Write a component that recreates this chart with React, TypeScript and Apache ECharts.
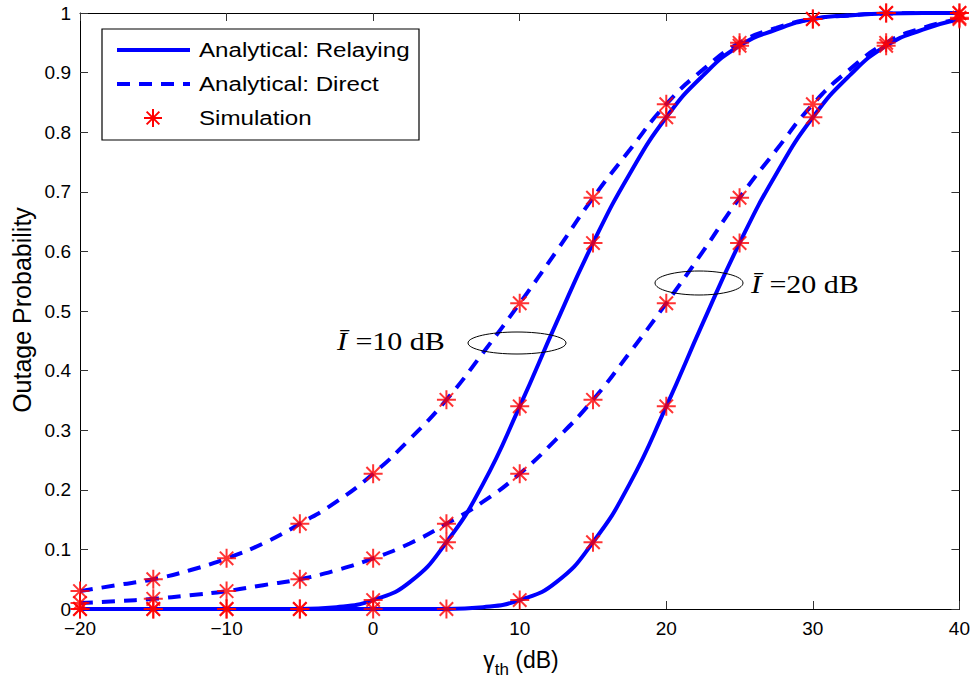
import React, { useEffect, useRef } from "react";
import * as echarts from "echarts";

const curveX = [-20, -17.5, -15, -12.5, -10, -7.5, -5, -2.5, 0, 2.5, 5, 7.5, 10, 12.5, 15, 17.5, 20, 22.5, 25, 27.5, 30, 32.5, 35, 37.5, 40];
const relay10 = [0, 0, 0, 0, 0, 0, 0, 0.003, 0.015, 0.045, 0.112, 0.21, 0.34, 0.48, 0.614, 0.73, 0.825, 0.895, 0.945, 0.972, 0.99, 0.996, 0.999, 1, 1];
const direct10 = [0.03, 0.04, 0.05, 0.065, 0.085, 0.11, 0.143, 0.18, 0.227, 0.285, 0.351, 0.43, 0.513, 0.6, 0.69, 0.77, 0.847, 0.905, 0.95, 0.975, 0.99, 0.996, 0.999, 1, 1];
const relay20 = [0, 0, 0, 0, 0, 0, 0, 0, 0, 0, 0, 0.003, 0.015, 0.045, 0.112, 0.21, 0.34, 0.48, 0.614, 0.73, 0.825, 0.895, 0.945, 0.972, 0.99];
const direct20 = [0.01, 0.013, 0.017, 0.023, 0.03, 0.04, 0.05, 0.065, 0.085, 0.11, 0.143, 0.18, 0.227, 0.285, 0.351, 0.43, 0.513, 0.6, 0.69, 0.77, 0.847, 0.905, 0.95, 0.975, 0.99];

// Simulation points every 5 dB
const simX = [-20, -15, -10, -5, 0, 5, 10, 15, 20, 25, 30, 35, 40];
const simRelay10 = [0, 0, 0, 0, 0.015, 0.112, 0.34, 0.614, 0.825, 0.945, 0.99, 1, 1];
const simDirect10 = [0.03, 0.05, 0.085, 0.143, 0.227, 0.351, 0.513, 0.69, 0.847, 0.95, 0.99, 1, 1];
const simRelay20 = [0, 0, 0, 0, 0, 0, 0.015, 0.112, 0.34, 0.614, 0.825, 0.945, 0.99];
const simDirect20 = [0.01, 0.017, 0.03, 0.05, 0.085, 0.143, 0.227, 0.351, 0.513, 0.69, 0.847, 0.95, 0.992];

const legendNames = ["Analytical: Relaying", "Analytical: Direct", "Simulation"];
const xLabel = "(dB)";
const yLabel = "Outage Probability";

const STAR = "path://M0,-10L0,10M-10,0L10,0M-7.07,-7.07L7.07,7.07M-7.07,7.07L7.07,-7.07";
const BLUE = "#0000ff";
const RED = "#ff0000";
const SANS = "Liberation Sans, Arial, Helvetica, sans-serif";
const SERIF = "Liberation Serif, DejaVu Serif, serif";

const zip = (xs: number[], ys: number[]) => xs.map((x, i) => [x, ys[i]]);

export default function App() {
  const ref = useRef<HTMLDivElement>(null);
  useEffect(() => {
    if (!ref.current) return;
    const chart = echarts.init(ref.current, null, { renderer: "svg" });
    const lineSeries = (data: number[], dashed: boolean, name: string) => ({
      type: "line",
      name,
      data: zip(curveX, data),
      smooth: 0.5,
      showSymbol: false,
      symbol: "none",
      clip: false,
      lineStyle: { color: BLUE, width: 4, type: dashed ? [13, 9] : "solid" },
      z: 2,
    });
    const simSeries = (data: number[]) => ({
      type: "scatter",
      name: legendNames[2],
      data: zip(simX, data),
      symbol: STAR,
      symbolSize: 19,
      clip: false,
      itemStyle: { color: RED, borderColor: RED, borderWidth: 2 },
      z: 3,
    });
    const axisCommon = {
      axisLine: { show: true, onZero: false, lineStyle: { color: "#000", width: 1 } },
      axisTick: { show: true, inside: true, length: 8, lineStyle: { color: "#333" } },
      splitLine: { show: false },
    };
    const legX = 102, legY = 29, legW = 317, legH = 111;
    const rows = [50, 84, 118];
    const starLines = (cx: number, cy: number, r: number) => {
      const d = r * 0.7071;
      return [
        [cx, cy - r, cx, cy + r],
        [cx - r, cy, cx + r, cy],
        [cx - d, cy - d, cx + d, cy + d],
        [cx - d, cy + d, cx + d, cy - d],
      ].map(([x1, y1, x2, y2]) => ({
        type: "line",
        shape: { x1, y1, x2, y2 },
        style: { stroke: RED, lineWidth: 2 },
        z: 101,
      }));
    };
    const annotation = (x: number, y: number, val: string) => ({
      type: "text",
      x,
      y,
      scaleX: 1.2,
      style: {
        text: "{i|\u012a}=" + val + " dB",
        font: `25px ${SERIF}`,
        fill: "#000",
        textVerticalAlign: "middle",
        rich: {
          i: { fontFamily: SERIF, fontSize: 25, fontStyle: "italic", padding: [0, 7, 0, 0] },
        },
      },
      z: 50,
    });
    chart.setOption({
      animation: false,
      backgroundColor: "#fff",
      grid: { left: 80, right: 11, top: 13, bottom: 70 },
      xAxis: [
        {
          type: "value",
          min: -20,
          max: 40,
          interval: 10,
          position: "bottom",
          ...axisCommon,
          axisLabel: {
            color: "#000",
            fontFamily: SANS,
            fontSize: 19,
            lineHeight: 16,
            margin: 11,
            formatter: (v: number) => (v < 0 ? "\u2212" + Math.abs(v) : String(v)),
          },
        },
        {
          type: "value",
          min: -20,
          max: 40,
          interval: 10,
          position: "top",
          ...axisCommon,
          axisLabel: { show: false },
        },
      ],
      yAxis: [
        {
          type: "value",
          min: 0,
          max: 1,
          interval: 0.1,
          position: "left",
          ...axisCommon,
          axisLabel: {
            color: "#000",
            fontFamily: SANS,
            fontSize: 19,
            lineHeight: 16,
            margin: 9,
            formatter: (v: number) => String(Math.round(v * 10) / 10),
          },
        },
        {
          type: "value",
          min: 0,
          max: 1,
          interval: 0.1,
          position: "right",
          ...axisCommon,
          axisLabel: { show: false },
        },
      ],
      series: [
        lineSeries(relay10, false, legendNames[0]),
        lineSeries(relay20, false, legendNames[0]),
        lineSeries(direct10, true, legendNames[1]),
        lineSeries(direct20, true, legendNames[1]),
        simSeries(simDirect10),
        simSeries(simRelay10),
        simSeries(simDirect20),
        simSeries(simRelay20),
      ],
      graphic: [
        // Legend box
        {
          type: "rect",
          shape: { x: legX, y: legY, width: legW, height: legH },
          style: { fill: "#fff", stroke: "#000", lineWidth: 1.2 },
          z: 100,
        },
        {
          type: "line",
          shape: { x1: 117, y1: rows[0], x2: 190, y2: rows[0] },
          style: { stroke: BLUE, lineWidth: 4 },
          z: 101,
        },
        {
          type: "line",
          shape: { x1: 117, y1: rows[1], x2: 190, y2: rows[1] },
          style: { stroke: BLUE, lineWidth: 4, lineDash: [13, 9] },
          z: 101,
        },
        ...starLines(153, rows[2], 9),
        ...legendNames.map((t, i) => ({
          type: "text",
          x: 199,
          y: rows[i],
          scaleX: 1.15,
          style: {
            text: t,
            fill: "#000",
            font: `21px ${SANS}`,
            textVerticalAlign: "middle",
          },
          z: 101,
        })),
        // Axis titles
        {
          type: "text",
          x: 22,
          y: 310,
          rotation: Math.PI / 2,
          style: {
            text: yLabel,
            fill: "#000",
            font: `25px ${SANS}`,
            textAlign: "center",
            textVerticalAlign: "middle",
          },
        },
        {
          type: "text",
          x: 521,
          y: 660,
          style: {
            text: "{g|\u03b3}{s|th}{n| " + xLabel + "}",
            textAlign: "center",
            textVerticalAlign: "middle",
            rich: {
              g: { fontFamily: SANS, fontSize: 23, color: "#000" },
              s: { fontFamily: SANS, fontSize: 17, color: "#000", padding: [18, 0, 0, 0] },
              n: { fontFamily: SANS, fontSize: 23, color: "#000" },
            },
          },
        },
        // Annotations
        {
          type: "ellipse",
          shape: { cx: 517, cy: 343, rx: 49, ry: 11 },
          style: { fill: "none", stroke: "#000", lineWidth: 1 },
          z: 50,
        },
        {
          type: "ellipse",
          shape: { cx: 699, cy: 283, rx: 44, ry: 12 },
          style: { fill: "none", stroke: "#000", lineWidth: 1 },
          z: 50,
        },
        annotation(337, 341, "10"),
        annotation(751, 284, "20"),
      ],
    });
    return () => chart.dispose();
  }, []);
  return (
    <div
      ref={ref}
      style={{ position: "fixed", left: 0, top: 0, width: 973, height: 679, background: "#fff" }}
    />
  );
}
